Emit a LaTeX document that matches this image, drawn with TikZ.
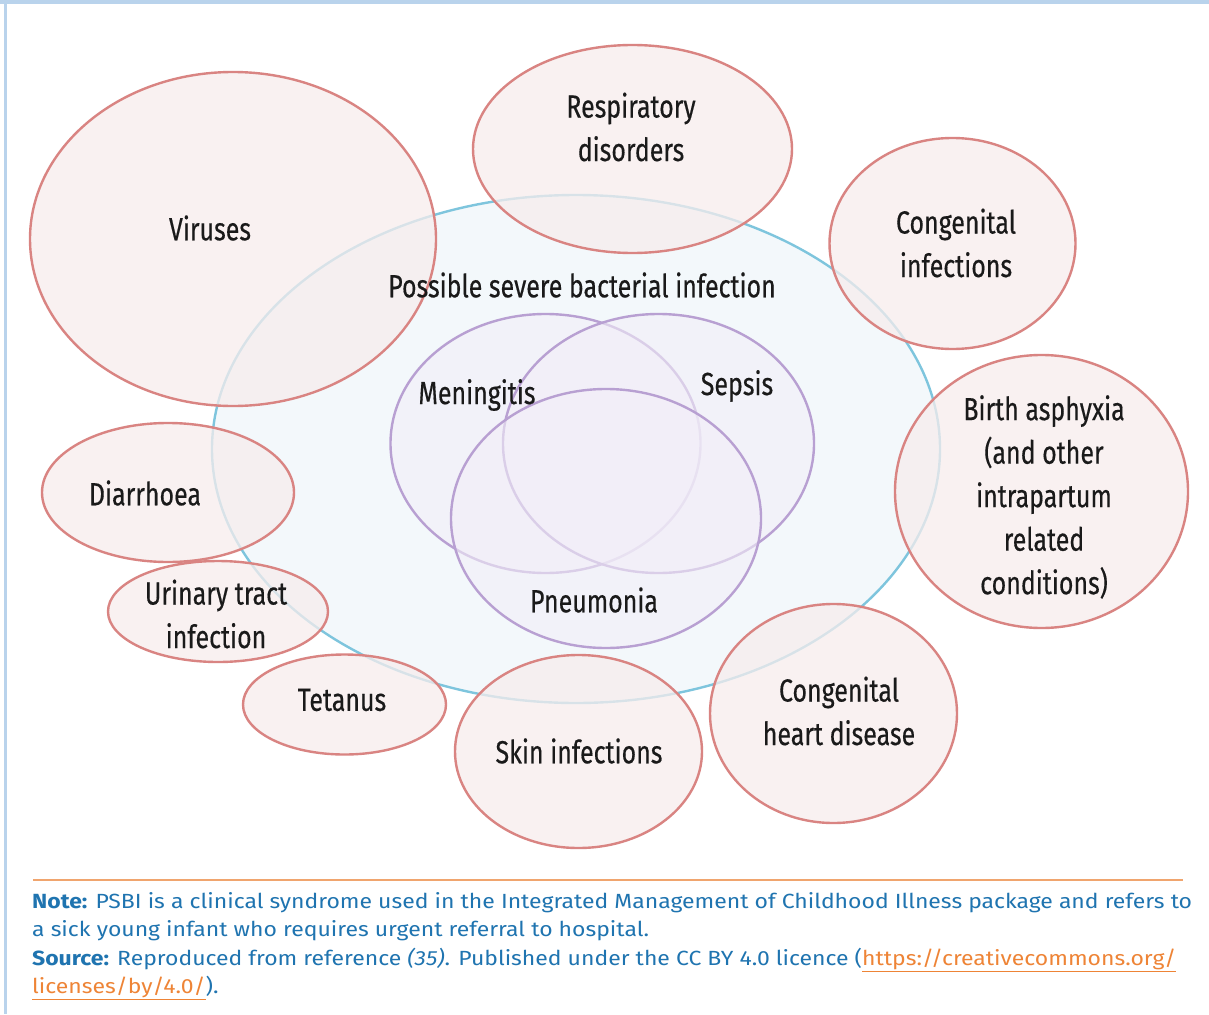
\documentclass[tikz,border=0pt]{standalone}
\usepackage{fontspec}
\setmainfont{Fira Sans}
\newfontfamily\lblfont[FakeStretch=0.78,FakeBold=0.4]{Fira Sans}
\newfontfamily\notefont[FakeStretch=1.12]{Fira Sans}
\definecolor{frameblue}{HTML}{B9D3EC}
\definecolor{redline}{HTML}{D98482}
\definecolor{redfill}{HTML}{F7EDED}
\definecolor{blueline}{HTML}{7EC5DD}
\definecolor{bluefill}{HTML}{F3F8FB}
\definecolor{purpline}{HTML}{B8A0D2}
\definecolor{purpfill}{HTML}{F2EEF8}
\definecolor{labeltext}{HTML}{1A1A1A}
\definecolor{notetext}{HTML}{1F74B0}
\definecolor{noteorange}{HTML}{EE8436}
\definecolor{rulecol}{HTML}{F0A56E}
\tikzset{
  lbl/.style={font=\lblfont\fontsize{32}{43.5}\selectfont, text=labeltext, align=center, inner sep=0pt},
  redell/.style={draw=redline, line width=2.4pt, fill=redfill, fill opacity=0.75},
  blueell/.style={draw=blueline, line width=2.4pt, fill=bluefill},
  purpell/.style={draw=purpline, line width=2.4pt, fill=purpfill, fill opacity=0.6},
}
\begin{document}
\begin{tikzpicture}[x=1pt,y=-1pt]
\useasboundingbox (0,0) rectangle (1209,1014);
\fill[white] (0,0) rectangle (1209,1014);
% frame
\fill[frameblue] (0,0) rectangle (1209,4);
\fill[frameblue] (3.5,0) rectangle (7,1014);
% big blue ellipse
\draw[blueell] (576,449) ellipse [x radius=364, y radius=254];
% purple ellipses
\draw[purpell] (545.5,443.5) ellipse [x radius=155, y radius=129.5];
\draw[purpell] (658.5,443.5) ellipse [x radius=155.5, y radius=129.5];
\draw[purpell] (606,518.5) ellipse [x radius=155, y radius=129.5];
% red ellipses
\draw[redell] (233,239) ellipse [x radius=203, y radius=167];
\draw[redell] (632.5,149) ellipse [x radius=159.5, y radius=104];
\draw[redell] (952.5,243.5) ellipse [x radius=123, y radius=105.5];
\draw[redell] (1041.5,491.5) ellipse [x radius=146.5, y radius=136.5];
\draw[redell] (168,492.5) ellipse [x radius=126, y radius=69.5];
\draw[redell] (218,611.5) ellipse [x radius=110, y radius=50.5];
\draw[redell] (344.5,704.5) ellipse [x radius=101.5, y radius=50];
\draw[redell] (578.5,751.5) ellipse [x radius=123.5, y radius=96.5];
\draw[redell] (833.5,713.5) ellipse [x radius=123.5, y radius=109.5];
% labels
\node[lbl] (psbi) at (582,285) {Possible severe bacterial infection};
\node[lbl] (vir) at (210,228) {Viruses};
\node[lbl] (resp) at (631,127) {Respiratory\\disorders};
\node[lbl] (cinf) at (956,243) {Congenital\\infections};
\node[lbl] (birth) at (1044,497) {Birth asphyxia\\(and other\\intrapartum\\related\\conditions)};
\node[lbl] (diar) at (145,493) {Diarrhoea};
\node[lbl] (uti) at (216,614) {Urinary tract\\infection};
\node[lbl] (tet) at (342,700) {Tetanus};
\node[lbl] (skin) at (579,751) {Skin infections};
\node[lbl] (chd) at (839,711) {Congenital\\heart disease};
\node[lbl] (men) at (477,395) {Meningitis};
\node[lbl] (sep) at (737,386) {Sepsis};
\node[lbl] (pneu) at (594,600) {Pneumonia};
% note
\draw[rulecol, line width=1.3pt] (33,880) -- (1183,880);
\node[anchor=north west, inner sep=0pt, align=left, text=notetext,
      font=\notefont\fontsize{20.5}{28.5}\selectfont] (note) at (32,892)
{{\bfseries Note:} PSBI is a clinical syndrome used in the Integrated Management of Childhood Illness package and refers to\\
a sick young infant who requires urgent referral to hospital.\\
{\bfseries Source:} Reproduced from reference {\itshape(35)}. Published under the CC BY 4.0 licence ({\color{noteorange}\underline{https://creativecommons.org/}}\\
{\color{noteorange}\underline{licenses/by/4.0/}}).};
\end{tikzpicture}
\end{document}
